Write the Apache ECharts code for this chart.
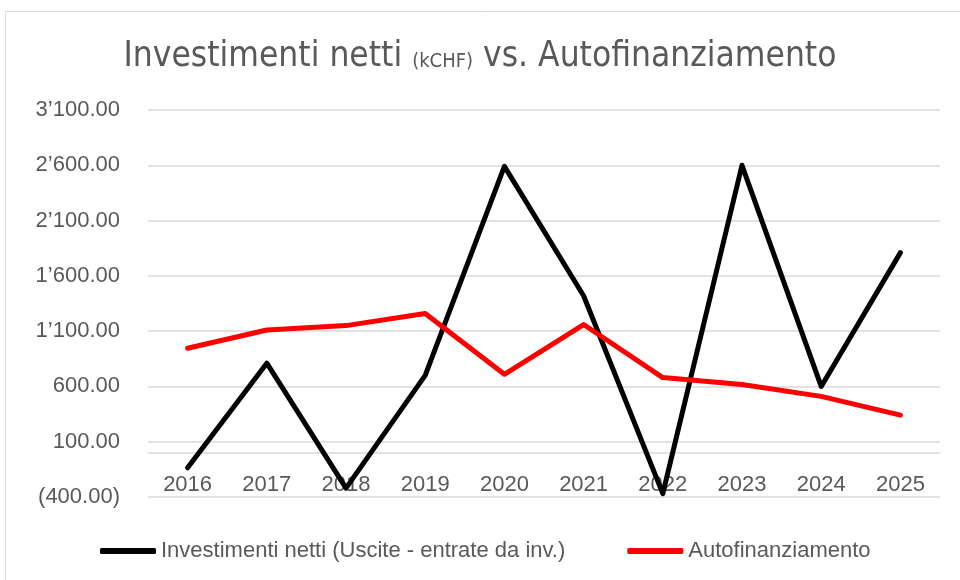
<!DOCTYPE html>
<html>
<head>
<meta charset="UTF-8">
<title>Investimenti netti vs. Autofinanziamento</title>
<script src="https://cdn.jsdelivr.net/npm/echarts@6/dist/echarts.min.js"></script>
<style>
	html, body { margin: 0; padding: 0; background: #fff; }
	#main { width: 960px; height: 580px; }
</style>
</head>
<body>
<div id="main"></div>
<script type="text/javascript">
	// dati
	var anni = ['2016', '2017', '2018', '2019', '2020', '2021', '2022', '2023', '2024', '2025'];
	var investimenti = [-136, 810, -320, 700, 2590, 1420, -370, 2600, 600, 1810];
	var autofinanziamento = [945, 1110, 1150, 1260, 710, 1160, 680, 618, 510, 340];
	var yTicks = [-400, 100, 600, 1100, 1600, 2100, 2600, 3100];

	var nomeInv = 'Investimenti netti (Uscite - entrate da inv.)';
	var nomeAuto = 'Autofinanziamento';

	// formato svizzero: 1'100.00, negativi tra parentesi
	function fmt(v) {
		var s = Math.abs(v).toFixed(2);
		var p = s.split('.');
		p[0] = p[0].replace(/\B(?=(\d{3})+(?!\d))/g, '\u2019');
		s = p[0] + '.' + p[1];
		return v < 0 ? '(' + s + ')' : s;
	}

	var grigio = '#595959';
	var font = 'Liberation Sans';
	var fontTitolo = "'DejaVu Sans Condensed', 'Liberation Sans Narrow', 'Liberation Sans'";

	var chart = echarts.init(document.getElementById('main'));

	var option = {
		animation: false,
		title: {
			text: '{a|Investimenti netti }{b|(kCHF)}{a| vs. Autofinanziamento}',
			left: 'center',
			top: 34,
			textStyle: {
				fontWeight: 'normal',
				rich: {
					a: { fontFamily: fontTitolo, fontWeight: 'normal', fontSize: 35, color: grigio },
					b: { fontFamily: fontTitolo, fontWeight: 'normal', fontSize: 20, color: grigio, verticalAlign: 'bottom', padding: [0, 0, 2, 0] }
				}
			}
		},
		graphic: [{
			type: 'rect',
			shape: { x: 5.5, y: 11.5, width: 1000, height: 1000 },
			style: { fill: 'none', stroke: '#d9d9d9', lineWidth: 1 },
			silent: true,
			z: -1
		}],
		legend: {
			left: 95,
			top: 535,
			icon: 'roundRect',
			itemWidth: 56,
			itemHeight: 6,
			itemGap: 62,
			textStyle: { fontFamily: font, fontSize: 22, color: grigio },
			data: [nomeInv, nomeAuto]
		},
		grid: {
			left: 148,
			right: 20,
			top: 110,
			bottom: 83
		},
		xAxis: {
			type: 'category',
			data: anni,
			boundaryGap: true,
			axisLine: { show: true, onZero: true, lineStyle: { color: '#d9d9d9', width: 1.5 } },
			axisTick: { show: false },
			axisLabel: { margin: -23, fontFamily: font, fontSize: 22, color: grigio }
		},
		yAxis: {
			type: 'value',
			min: -400,
			max: 3100,
			axisLine: { show: false },
			axisTick: { show: false, customValues: yTicks },
			axisLabel: {
				customValues: yTicks,
				margin: 28,
				fontFamily: font,
				fontSize: 22,
				color: grigio,
				formatter: fmt
			},
			splitLine: { show: true, customValues: yTicks, lineStyle: { color: '#d9d9d9', width: 1.5 } }
		},
		series: [{
			name: nomeInv,
			type: 'line',
			data: investimenti,
			symbol: 'none',
			itemStyle: { color: '#000000' },
			lineStyle: { color: '#000000', width: 5, cap: 'round', join: 'round' }
		}, {
			name: nomeAuto,
			type: 'line',
			data: autofinanziamento,
			symbol: 'none',
			itemStyle: { color: '#ff0000' },
			lineStyle: { color: '#ff0000', width: 5, cap: 'round', join: 'round' }
		}]
	};

	chart.setOption(option, true);
</script>
</body>
</html>
